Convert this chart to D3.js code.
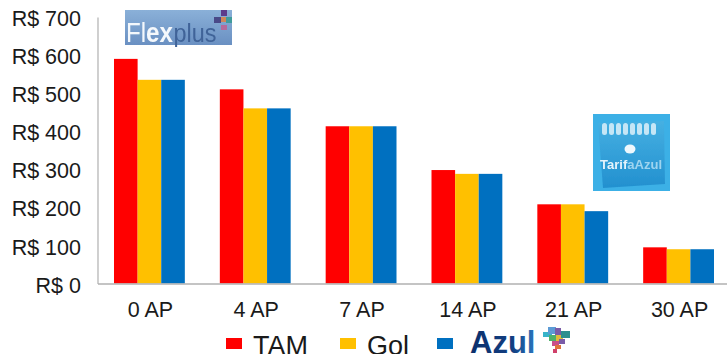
<!DOCTYPE html>
<html>
<head>
<meta charset="utf-8">
<script src="https://cdn.jsdelivr.net/npm/d3@7/dist/d3.min.js"></script>
<style>
  html, body { margin: 0; padding: 0; background: #fff; overflow: hidden; }
  text { font-family: "Liberation Sans", Arial, sans-serif; fill: #1a1a1a; }
</style>
</head>
<body>
<svg id="chart" width="727" height="354"></svg>
<script>
const categories = ['0 AP', '4 AP', '7 AP', '14 AP', '21 AP', '30 AP'];
const tam = [590, 510, 413, 298, 208, 95];
const gol = [535, 460, 413, 288, 208, 90];
const azul = [535, 460, 413, 288, 190, 90];
const seriesNames = ['TAM', 'Gol', 'Azul'];
const seriesColors = ['#ff0000', '#ffc000', '#0070c0'];
const yTicks = [0, 100, 200, 300, 400, 500, 600, 700];

const svg = d3.select('#chart');
const defs = svg.append('defs');
defs.append('filter').attr('id', 'soft').append('feGaussianBlur').attr('stdDeviation', 0.5);

const x = d3.scaleBand().domain(categories).range([97.5, 732.5]);
const x1 = d3.scaleBand().domain(seriesNames).range([16.5, x.bandwidth() - 18.5]);
const y = d3.scaleLinear().domain([0, 700]).range([283.5, 17]);

// 柱子
const rows = categories.map((c, i) => ({ c, vals: [tam[i], gol[i], azul[i]] }));
svg.selectAll('g.group').data(rows).enter().append('g')
  .attr('class', 'group')
  .attr('transform', d => `translate(${x(d.c)},0)`)
  .selectAll('rect').data(d => d.vals).enter().append('rect')
  .attr('x', (d, i) => x1(seriesNames[i]))
  .attr('width', x1.bandwidth())
  .attr('y', d => y(d))
  .attr('height', d => y(0) - y(d))
  .attr('fill', (d, i) => seriesColors[i]);

// 坐标轴
const axisColor = '#b0b0b0';
const gy = svg.append('g').attr('transform', 'translate(97.5,0)')
  .call(d3.axisLeft(y).tickValues(yTicks).tickSize(0).tickPadding(16.5).tickFormat(d => 'R$ ' + d));
gy.select('.domain').attr('stroke', axisColor).attr('stroke-width', 1.2);
gy.selectAll('text').attr('font-size', 21.5).attr('dy', '0.4em')
  .style('font-family', '"Liberation Sans", Arial, sans-serif').attr('fill', '#1a1a1a');

const gx = svg.append('g').attr('transform', 'translate(0,283.5)')
  .call(d3.axisBottom(x).tickSize(0).tickPadding(18.5));
gx.select('.domain').attr('stroke', axisColor).attr('stroke-width', 1.4);
gx.selectAll('text').attr('font-size', 21.5)
  .style('font-family', '"Liberation Sans", Arial, sans-serif').attr('fill', '#1a1a1a');

// 图例
const legend = svg.append('g');
legend.append('rect').attr('x', 226).attr('y', 338).attr('width', 16).attr('height', 11).attr('fill', seriesColors[0]);
legend.append('text').attr('x', 253).attr('y', 355).attr('font-size', 27).text(seriesNames[0]);
legend.append('rect').attr('x', 340).attr('y', 338).attr('width', 16).attr('height', 11).attr('fill', seriesColors[1]);
legend.append('text').attr('x', 367).attr('y', 355).attr('font-size', 27).text(seriesNames[1]);
legend.append('rect').attr('x', 437).attr('y', 338).attr('width', 16).attr('height', 11).attr('fill', seriesColors[2]);

// Azul 标志
const azulGrad = defs.append('linearGradient').attr('id', 'azulGrad');
azulGrad.append('stop').attr('offset', '0%').attr('stop-color', '#0b2f6b');
azulGrad.append('stop').attr('offset', '65%').attr('stop-color', '#123f82');
azulGrad.append('stop').attr('offset', '100%').attr('stop-color', '#2a78c0');
legend.append('text').attr('x', 470).attr('y', 353).attr('font-size', 31).attr('font-weight', 'bold')
  .style('fill', 'url(#azulGrad)').text(seriesNames[2]);

const brazil = [
  ['#39b4c9', 543, 332, 9, 5], ['#5b9bd5', 548, 327, 8, 7], ['#7a5ba8', 555, 328, 6, 7],
  ['#4fb06a', 549, 335, 8, 6], ['#e2b93b', 556, 335, 7, 6], ['#2f8f8f', 561, 331, 9, 7],
  ['#c94f8a', 552, 341, 7, 5], ['#7a5ba8', 559, 339, 6, 5], ['#e0733a', 555, 345, 6, 4], ['#d0406a', 553, 349, 4, 4]
];
svg.append('g').attr('filter', 'url(#soft)').selectAll('rect').data(brazil).enter().append('rect')
  .attr('x', d => d[1]).attr('y', d => d[2]).attr('width', d => d[3]).attr('height', d => d[4]).attr('fill', d => d[0]);

// Flexplus 标志
const flexGrad = defs.append('linearGradient').attr('id', 'flexGrad').attr('x2', 0).attr('y2', 1);
flexGrad.append('stop').attr('offset', '0%').attr('stop-color', '#8ab0d8');
flexGrad.append('stop').attr('offset', '100%').attr('stop-color', '#6a90c2');
const flex = svg.append('g');
flex.append('rect').attr('x', 125).attr('y', 10).attr('width', 107).attr('height', 35).attr('fill', 'url(#flexGrad)');
const flexG = flex.append('g').attr('filter', 'url(#soft)');
const flexText = flexG.append('text').attr('x', 126).attr('y', 42).attr('font-size', 27)
  .attr('textLength', 47).attr('lengthAdjust', 'spacingAndGlyphs').style('fill', '#f4f8fc');
flexText.append('tspan').text('Fl');
flexText.append('tspan').style('font-weight', 'bold').text('ex');
flexG.append('text').attr('x', 173.5).attr('y', 42).attr('font-size', 25)
  .attr('textLength', 43).attr('lengthAdjust', 'spacingAndGlyphs').style('fill', '#3f6398').text('plus');
const flexSquares = [
  ['#5b3a8c', 221, 10, 6, 6], ['#4a4a88', 214, 17, 7, 6], ['#d0875a', 221, 17, 5, 5],
  ['#3f9c9c', 226, 17, 6, 6], ['#b56a9c', 221, 25, 6, 5]
];
flexG.selectAll('rect').data(flexSquares).enter().append('rect')
  .attr('x', d => d[1]).attr('y', d => d[2]).attr('width', d => d[3]).attr('height', d => d[4]).attr('fill', d => d[0]);

// TarifaAzul 标志
const tarifaGrad = defs.append('linearGradient').attr('id', 'tarifaGrad').attr('x2', 0).attr('y2', 1);
tarifaGrad.append('stop').attr('offset', '0%').attr('stop-color', '#45b0e2');
tarifaGrad.append('stop').attr('offset', '100%').attr('stop-color', '#2390cf');
const tarifa = svg.append('g');
tarifa.append('rect').attr('x', 593).attr('y', 114).attr('width', 77).attr('height', 77).attr('fill', '#3cb0e6');
const tarifaG = tarifa.append('g').attr('filter', 'url(#soft)');
tarifaG.append('path').attr('d', 'M598,123 L664,121 L665,184 L603,188 Z').attr('fill', 'url(#tarifaGrad)');
d3.range(8).forEach(i => {
  tarifaG.append('rect').attr('x', 602 + i * 7).attr('y', 123).attr('width', 5).attr('height', 12)
    .attr('rx', 2.5).attr('fill', '#c5e6f6');
});
tarifaG.append('ellipse').attr('cx', 630).attr('cy', 149).attr('rx', 5.5).attr('ry', 4.5).attr('fill', '#eef8fd');
const tarifaText = tarifaG.append('text').attr('x', 600).attr('y', 169).attr('font-size', 13).attr('font-weight', 'bold')
  .attr('textLength', 62).attr('lengthAdjust', 'spacingAndGlyphs').style('fill', '#e4f3fb');
tarifaText.append('tspan').text('Tarif');
tarifaText.append('tspan').style('fill', '#9ed4ef').text('aAzul');
</script>
</body>
</html>
